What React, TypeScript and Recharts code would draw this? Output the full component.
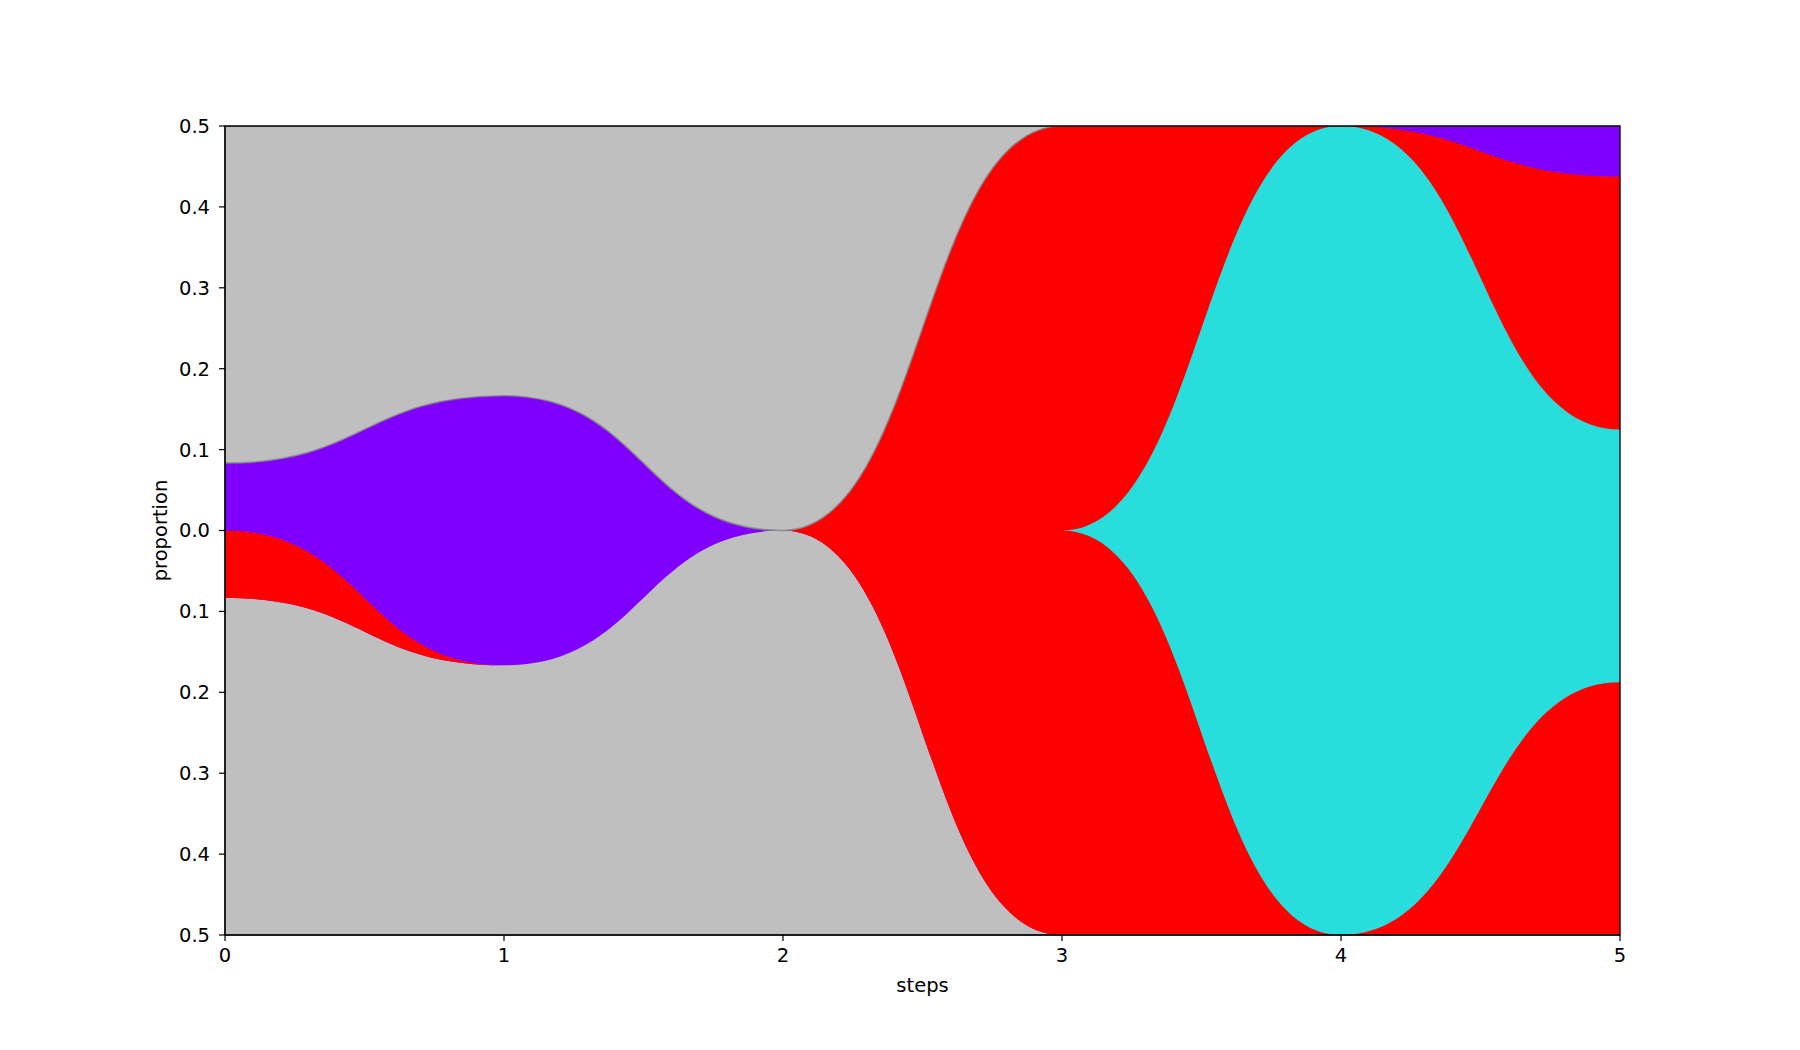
import React from 'react';
import { AreaChart, Area, XAxis, YAxis, CartesianGrid, ReferenceArea } from 'recharts';

const steps = [0, 1, 2, 3, 4, 5];
const grayBottom = [0.4167, 0.3333, 0.5, 0, 0, 0];
const redLower = [0.0833, 0, 0, 0.5, 0, 0.3125];
const cyan = [0, 0, 0, 0, 1, 0.3125];
const redUpper = [0, 0, 0, 0.5, 0, 0.3125];
const purple = [0.0833, 0.3333, 0, 0, 0, 0.0625];
const grayTop = [0.4167, 0.3333, 0.5, 0, 0, 0];
const yTicks = [-0.5, -0.4, -0.3, -0.2, -0.1, 0, 0.1, 0.2, 0.3, 0.4, 0.5];

// Boundaries of the layers, stacked symmetrically around zero (total = 1)
const data = steps.map((s, i) => {
  const total = grayBottom[i] + redLower[i] + cyan[i] + redUpper[i] + purple[i] + grayTop[i];
  const b0 = -total / 2;
  const b1 = b0 + grayBottom[i];
  const b2 = b1 + redLower[i];
  const b3 = b2 + cyan[i];
  const b4 = b3 + redUpper[i];
  const b5 = b4 + purple[i];
  const b6 = b5 + grayTop[i];
  return {
    step: s,
    grayBottomRange: [b0, b1],
    purpleRange: [b1, b5],
    redRange: [b1, b4],
    cyanRange: [b2, b3],
    grayTopRange: [b6, b5],
  };
});

const FONT = 'DejaVu Sans, sans-serif';
const FS = 19.5;
const tickStyle = { fontFamily: FONT, fontSize: FS, fill: '#000' };

export default function App() {
  return (
    <div style={{ position: 'absolute', left: 0, top: 0, width: 1800, height: 1050, background: '#fff' }}>
      <AreaChart
        width={1800}
        height={1050}
        data={data}
        margin={{ top: 126, right: 180, left: 95, bottom: 14 }}
      >
        <CartesianGrid horizontal={false} vertical={false} fill="#bfbfbf" stroke="none" />
        <Area type="bumpX" dataKey="grayBottomRange" fill="#bfbfbf" fillOpacity={1} stroke="none" isAnimationActive={false} />
        <Area type="bumpX" dataKey="purpleRange" fill="#8000ff" fillOpacity={1} stroke="none" isAnimationActive={false} />
        <Area type="bumpX" dataKey="redRange" fill="#ff0000" fillOpacity={1} stroke="none" isAnimationActive={false} />
        <Area type="bumpX" dataKey="cyanRange" fill="#2adddd" fillOpacity={1} stroke="none" isAnimationActive={false} />
        <Area type="bumpX" dataKey="grayTopRange" fill="#bfbfbf" fillOpacity={1} stroke="#7f7f7f" strokeOpacity={0.75} strokeWidth={1.6} isAnimationActive={false} />
        <XAxis
          dataKey="step"
          type="number"
          domain={[0, 5]}
          ticks={steps}
          interval={0}
          height={101}
          tickSize={6}
          tickMargin={7}
          tick={tickStyle}
          axisLine={{ stroke: '#000', strokeWidth: 1.2 }}
          tickLine={{ stroke: '#000', strokeWidth: 1.2 }}
          label={{ value: 'steps', position: 'center', style: { fontFamily: FONT, fontSize: FS, fill: '#000' } }}
        />
        <YAxis
          type="number"
          domain={[-0.5, 0.5]}
          ticks={yTicks}
          interval={0}
          allowDataOverflow
          width={130}
          tickSize={6}
          tickMargin={9}
          tick={tickStyle}
          tickFormatter={(v: number) => Math.abs(v).toFixed(1)}
          axisLine={{ stroke: '#000', strokeWidth: 1.2 }}
          tickLine={{ stroke: '#000', strokeWidth: 1.2 }}
          label={{ value: 'proportion', angle: -90, position: 'center', style: { fontFamily: FONT, fontSize: FS, fill: '#000' } }}
        />
        <ReferenceArea
          x1={0}
          x2={5}
          y1={-0.5}
          y2={0.5}
          ifOverflow="visible"
          fill="none"
          fillOpacity={0}
          stroke="#000"
          strokeOpacity={1}
          strokeWidth={1.3}
        />
      </AreaChart>
    </div>
  );
}
